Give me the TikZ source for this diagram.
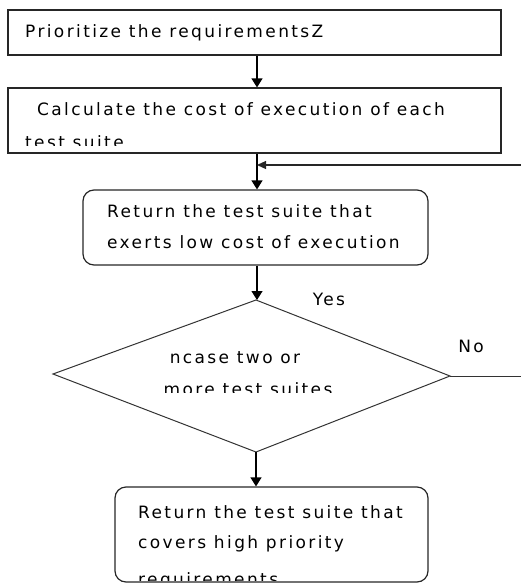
\documentclass[tikz,border=0pt]{standalone}
\usepackage{fontspec}
\setmainfont{DejaVu Sans}[LetterSpace=14]
\usetikzlibrary{arrows.meta}
\begin{document}
\begin{tikzpicture}[x=1pt,y=-1pt,
  box/.style={draw=black!85, line width=1.2pt, inner sep=0pt},
  rbox/.style={box, rounded corners=11pt},
  dline/.style={draw=black!80, line width=1pt},
  txt/.style={anchor=base west, inner sep=0pt, text=black, font=\fontsize{17}{17}\selectfont},
  ctxt/.style={txt, anchor=base},
  arr/.style={draw=black, line width=1.2pt, -{Triangle[width=11pt,length=9pt]}},
  farr/.style={draw=black!85, line width=1.2pt, -{Triangle[width=8pt,length=9pt]}},
  ]
\useasboundingbox (0,0) rectangle (521,584);
% boxes
\node[box, minimum width=493pt, minimum height=45pt] (b1) at (254.5,32.5) {};
\node[box, minimum width=493pt, minimum height=65pt] (b2) at (254.5,120.5) {};
\node[rbox, minimum width=345pt, minimum height=75pt] (b3) at (255.5,227.5) {};
\node[rbox, minimum width=313pt, minimum height=95pt] (b4) at (271.5,534.5) {};
% diamond
\coordinate (dt) at (256,300);
\coordinate (dl) at (53,374);
\coordinate (dr) at (450,376);
\coordinate (db) at (256,452);
\draw[dline] (dt) -- (dr) -- (db) -- (dl) -- cycle;
% helpers
\coordinate (ax) at (257,0);
\coordinate (fb) at (521,165);
\coordinate (nend) at (521,376);
% texts
\node[txt] (t1) at (25,37) {Prioritize the requirementsZ};
\node[txt] (t2a) at (37,115) {Calculate the cost of execution of each};
\begin{scope}
  \clip (10,90) rectangle (499,145);
  \node[txt] (t2b) at (25,148) {test suite};
\end{scope}
\node[txt] (t3a) at (107,217) {Return the test suite that};
\node[txt] (t3b) at (107,248) {exerts low cost of execution};
\node[ctxt] (td1) at (235,363) {ncase two or};
\begin{scope}
  \clip (100,370) rectangle (400,392);
  \node[ctxt] (td2) at (248,395) {more test suites};
\end{scope}
\node[txt] (t4a) at (138,518) {Return the test suite that};
\node[txt] (t4b) at (138,548) {covers high priority};
\begin{scope}
  \clip (117,560) rectangle (426,580);
  \node[txt] (t4c) at (138,585) {requirements};
\end{scope}
\node[ctxt] (yes) at (329,305) {Yes};
\node[ctxt] (no) at (471,352) {No};
% connectors
\draw[arr] (b1.south -| ax) -- (b2.north -| ax);
\draw[arr] (b2.south -| ax) -- (b3.north -| ax);
\draw[arr] (b3.south -| ax) -- (dt -| ax);
\draw[arr] (db) -- (b4.north -| db);
\draw[farr] (fb) -- (fb -| ax);
\draw[dline] (dr) -- (nend);
\end{tikzpicture}
\end{document}
